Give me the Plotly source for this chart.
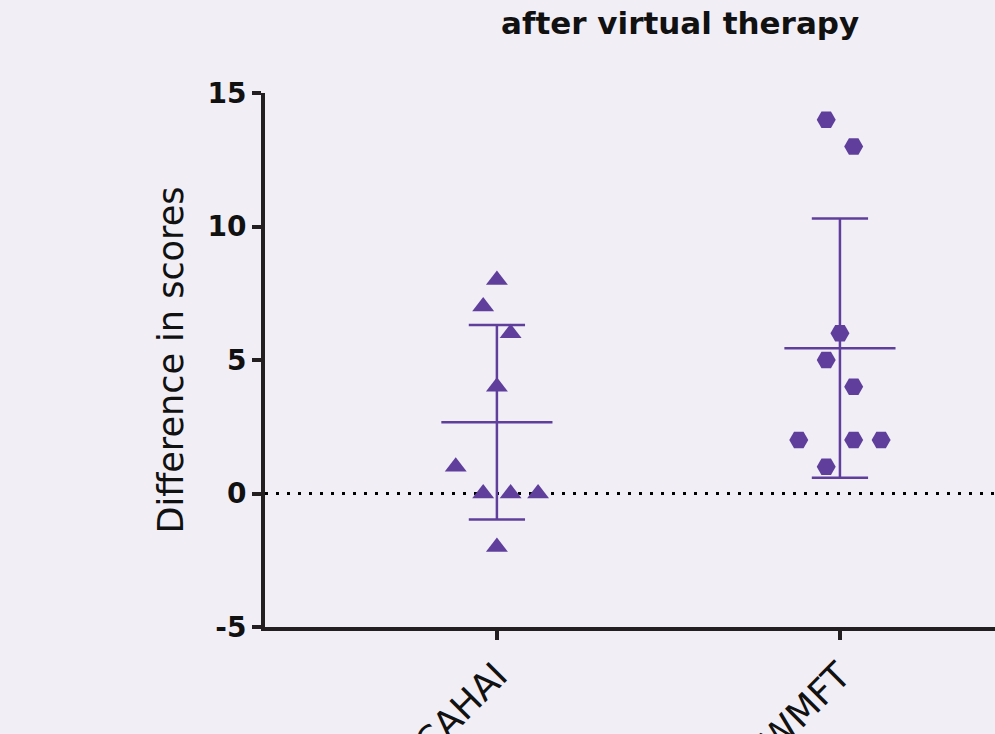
import numpy as np
import plotly.graph_objects as go

categories = ["CAHAI", "WMFT"]
cahai_values = [8, 7, 6, 4, 1, 0, 0, 0, -2]
cahai_jitter = [0, -0.04, 0.04, 0, -0.12, -0.04, 0.04, 0.12, 0]
wmft_values = [14, 13, 6, 5, 4, 2, 2, 2, 1]
wmft_jitter = [-0.04, 0.04, 0, -0.04, 0.04, -0.12, 0.04, 0.12, -0.04]
y_ticks = [-5, 0, 5, 10, 15]

purple = "#5F3F9B"
bg = "#F1EEF6"
axis_col = "#231F20"
font_family = "DejaVu Sans, sans-serif"

fig = go.Figure()

# dotted zero line
fig.add_trace(go.Scatter(x=[-0.676, 1.6], y=[0, 0], mode="lines",
                         line=dict(color="black", width=3, dash="3px,8px"),
                         showlegend=False, hoverinfo="skip"))

series = [
    (0, cahai_values, cahai_jitter, "triangle-up"),
    (1, wmft_values, wmft_jitter, "hexagon2"),
]
for xi, vals, jit, sym in series:
    xs = [xi + j for j in jit]
    m = float(np.mean(vals))
    s = float(np.std(vals, ddof=1))
    fig.add_trace(go.Scatter(x=[xi - 0.162, xi + 0.162], y=[m, m], mode="lines",
                             line=dict(color=purple, width=2.5), showlegend=False, hoverinfo="skip"))
    fig.add_trace(go.Scatter(x=[xi, xi], y=[m - s, m + s], mode="lines",
                             line=dict(color=purple, width=2.5), showlegend=False, hoverinfo="skip"))
    for v in (m - s, m + s):
        fig.add_trace(go.Scatter(x=[xi - 0.082, xi + 0.082], y=[v, v], mode="lines",
                                 line=dict(color=purple, width=2.5), showlegend=False, hoverinfo="skip"))
    fig.add_trace(go.Scatter(
        x=xs, y=vals, mode="markers",
        marker=dict(symbol=sym, size=19, color=purple, line=dict(width=0)),
        showlegend=False, hoverinfo="skip"))

fig.update_layout(
    width=995, height=734,
    paper_bgcolor=bg, plot_bgcolor=bg,
    margin=dict(l=265, r=0, t=93, b=107),
    font=dict(family=font_family, color="#111111"),
    xaxis=dict(
        range=[-0.676, 1.452], tickmode="array", tickvals=[0, 1], ticktext=categories,
        tickangle=-45, showgrid=False, zeroline=False, automargin=False,
        showline=True, linecolor=axis_col, linewidth=4,
        ticks="outside", ticklen=9, tickwidth=4, tickcolor=axis_col,
        tickfont=dict(size=36, family=font_family, color="#111111"),
    ),
    yaxis=dict(
        range=[-5, 15], tickmode="array", tickvals=y_ticks, ticktext=[str(t) for t in y_ticks],
        showgrid=False, zeroline=False, automargin=False,
        showline=True, linecolor=axis_col, linewidth=4,
        ticks="outside", ticklen=9, tickwidth=4, tickcolor=axis_col,
        tickfont=dict(size=28, family=font_family, weight="bold", color="#111111"),
        title=dict(text="Difference in scores", standoff=14,
                   font=dict(size=35, family=font_family, color="#111111")),
    ),
    annotations=[dict(
        text="after virtual therapy", xref="paper", yref="paper",
        x=0.568, y=1.131, xanchor="center", yanchor="middle", showarrow=False,
        font=dict(size=31, family=font_family, weight="bold", color="#111111"))],
)

fig.write_html("out.html", config={"displayModeBar": False},
               post_script="document.body.style.margin='0';document.body.style.background='%s';" % bg)
